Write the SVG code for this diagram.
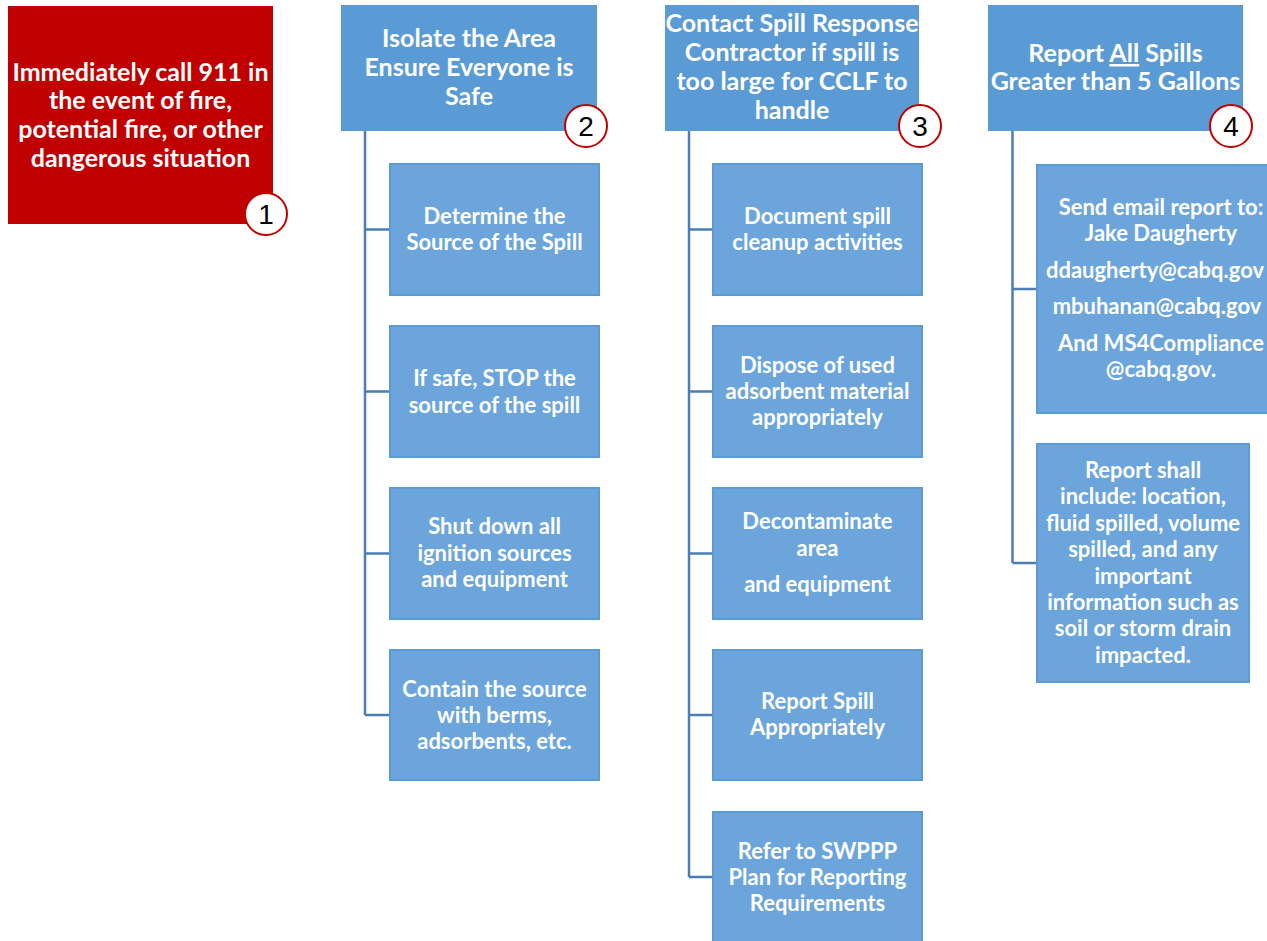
<svg xmlns="http://www.w3.org/2000/svg" width="1267" height="941" viewBox="0 0 1267 941">
<style>
.head{fill:#5B9BD5;}
.red{fill:#C00000;}
.child{fill:#6BA5DB;stroke:#5B9BD5;stroke-width:2;}
.t{font-family:Lato,"Liberation Sans",sans-serif;font-weight:bold;fill:#FFFFFF;text-anchor:middle;}
.th{font-size:25px;}
.tc{font-size:22px;}
.num circle{fill:#FFFFFF;stroke:#C00000;stroke-width:2;}
.num text{font-family:"Liberation Sans",Arial,sans-serif;font-size:28px;fill:#000000;text-anchor:middle;}
.conn path{fill:none;stroke:#4A7EB5;stroke-width:2.5;}
</style>
<rect width="1267" height="941" fill="#FFFFFF"/>
<g class="conn" id="connectors">
<path d="M365,131 V715 M365,229.5 H390 M365,391.5 H390 M365,553.5 H390 M365,715 H390"/>
<path d="M689,131 V877 M689,229.5 H713 M689,391.5 H713 M689,553.5 H713 M689,715 H713 M689,877 H713"/>
<path d="M1012.5,131 V563 M1012.5,289 H1037 M1012.5,563 H1037"/>
</g>
<g id="n1">
<rect class="red" x="8" y="6" width="265" height="218"/>
<text class="t th"><tspan x="140.5" y="81">Immediately call 911 in</tspan><tspan x="140.5" y="109">the event of fire,</tspan><tspan x="140.5" y="138">potential fire, or other</tspan><tspan x="140.5" y="167">dangerous situation</tspan></text>
<g class="num"><circle cx="266" cy="214" r="21"/><text x="266" y="224">1</text></g>
</g>
<g id="n2">
<rect class="head" x="341" y="5" width="256" height="126"/>
<text class="t th"><tspan x="469" y="47">Isolate the Area</tspan><tspan x="469" y="76">Ensure Everyone is</tspan><tspan x="469" y="105">Safe</tspan></text>
<g class="num"><circle cx="586" cy="126" r="21"/><text x="586" y="136">2</text></g>
</g>
<g id="n2a">
<rect class="child" x="390" y="164" width="209" height="131"/>
<text class="t tc"><tspan x="494.5" y="224">Determine the</tspan><tspan x="494.5" y="250">Source of the Spill</tspan></text>
</g>
<g id="n2b">
<rect class="child" x="390" y="326" width="209" height="131"/>
<text class="t tc"><tspan x="494.5" y="386">If safe, STOP the</tspan><tspan x="494.5" y="413">source of the spill</tspan></text>
</g>
<g id="n2c">
<rect class="child" x="390" y="488" width="209" height="131"/>
<text class="t tc"><tspan x="494.5" y="534">Shut down all</tspan><tspan x="494.5" y="561">ignition sources</tspan><tspan x="494.5" y="587">and equipment</tspan></text>
</g>
<g id="n2d">
<rect class="child" x="390" y="650" width="209" height="130"/>
<text class="t tc"><tspan x="494.5" y="697">Contain the source</tspan><tspan x="494.5" y="723">with berms,</tspan><tspan x="494.5" y="749">adsorbents, etc.</tspan></text>
</g>
<g id="n3">
<rect class="head" x="665" y="5" width="254" height="126"/>
<text class="t th"><tspan x="792" y="32">Contact Spill Response</tspan><tspan x="792" y="61">Contractor if spill is</tspan><tspan x="792" y="90">too large for CCLF to</tspan><tspan x="792" y="119">handle</tspan></text>
<g class="num"><circle cx="920" cy="126" r="21"/><text x="920" y="136">3</text></g>
</g>
<g id="n3a">
<rect class="child" x="713" y="164" width="209" height="131"/>
<text class="t tc"><tspan x="817.5" y="224">Document spill</tspan><tspan x="817.5" y="250">cleanup activities</tspan></text>
</g>
<g id="n3b">
<rect class="child" x="713" y="326" width="209" height="131"/>
<text class="t tc"><tspan x="817.5" y="373">Dispose of used</tspan><tspan x="817.5" y="399">adsorbent material</tspan><tspan x="817.5" y="425">appropriately</tspan></text>
</g>
<g id="n3c">
<rect class="child" x="713" y="488" width="209" height="131"/>
<text class="t tc"><tspan x="817.5" y="529">Decontaminate</tspan><tspan x="817.5" y="556">area</tspan><tspan x="817.5" y="592">and equipment</tspan></text>
</g>
<g id="n3d">
<rect class="child" x="713" y="650" width="209" height="130"/>
<text class="t tc"><tspan x="817.5" y="709">Report Spill</tspan><tspan x="817.5" y="735">Appropriately</tspan></text>
</g>
<g id="n3e">
<rect class="child" x="713" y="812" width="209" height="131"/>
<text class="t tc"><tspan x="817.5" y="859">Refer to SWPPP</tspan><tspan x="817.5" y="885">Plan for Reporting</tspan><tspan x="817.5" y="911">Requirements</tspan></text>
</g>
<g id="n4">
<rect class="head" x="988" y="5" width="255" height="126"/>
<text class="t th"><tspan x="1115.5" y="62">Report <tspan text-decoration="underline">All</tspan> Spills</tspan><tspan x="1115.5" y="90">Greater than 5 Gallons</tspan></text>
<g class="num"><circle cx="1231" cy="126" r="21"/><text x="1231" y="136">4</text></g>
</g>
<g id="n4a">
<rect class="child" x="1037" y="165" width="250" height="248"/>
<text class="t tc"><tspan x="1161" y="215">Send email report to:</tspan><tspan x="1161" y="241">Jake Daugherty</tspan><tspan x="1155" y="278">ddaugherty@cabq.gov</tspan><tspan x="1157" y="314">mbuhanan@cabq.gov</tspan><tspan x="1161" y="351">And MS4Compliance</tspan><tspan x="1161" y="377">@cabq.gov.</tspan></text>
</g>
<g id="n4b">
<rect class="child" x="1037" y="444" width="212" height="238"/>
<text class="t tc"><tspan x="1143" y="478">Report shall</tspan><tspan x="1143" y="504">include: location,</tspan><tspan x="1143" y="531">fluid spilled, volume</tspan><tspan x="1143" y="557">spilled, and any</tspan><tspan x="1143" y="584">important</tspan><tspan x="1143" y="610">information such as</tspan><tspan x="1143" y="636">soil or storm drain</tspan><tspan x="1143" y="663">impacted.</tspan></text>
</g>
</svg>
